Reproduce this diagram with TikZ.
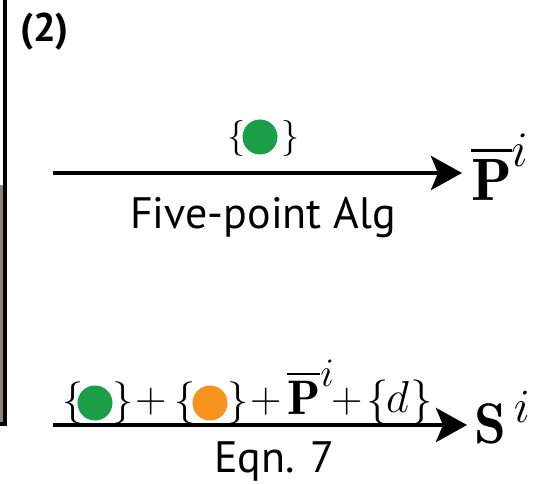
\documentclass[tikz,border=0pt]{standalone}
\usepackage{amsmath}
\usepackage{graphicx}
\usepackage{fontspec}
\newfontfamily\lblfont{PT Sans}
\usetikzlibrary{arrows.meta}
\definecolor{dotgreen}{RGB}{26,158,72}
\definecolor{dotorange}{RGB}{247,148,29}
\definecolor{photo}{RGB}{140,130,120}
\newcommand{\fsz}[1]{\fontsize{#1}{#1}\selectfont}
\newcommand{\bigmath}[2]{\scalebox{#1}{\Huge$#2$}}
\begin{document}
\begin{tikzpicture}[x=1pt,y=-1pt,
  flow/.style={line width=4.6pt,-{Stealth[length=31pt,width=34pt,inset=7pt]}},
  dotnode/.style={circle,inner sep=0pt,minimum size=35pt},
  txt/.style={inner sep=0pt,anchor=base west,font=\lblfont\fsz{44}},
  mth/.style={inner sep=0pt,anchor=base west}]
\useasboundingbox (0,0) rectangle (538,484);
% left border of previous panel
\fill[photo] (0,185) rectangle (3,422);
\draw[line width=4pt] (5,0) -- (5,424) -- (0,424);
% panel label
\node[txt,font=\lblfont\bfseries\fsz{40}] (lab) at (20,42) {(2)};
% top arrow
\coordinate (s1) at (53,173);
\node[mth] (p1) at (471,200) {\bigmath{2.4}{\overline{\mathbf{P}}^{i}}};
\draw[flow] (s1) -- ([xshift=-9pt]s1 -| p1.west);
\node[mth] (tb1) at (227,148) {\bigmath{1.45}{\{}};
\node[dotnode,fill=dotgreen] (tg) at (260,137) {};
\node[mth] (tb2) at (281,148) {\bigmath{1.45}{\}}};
\node[txt] (five) at (130,228) {Five-point Alg};
% bottom arrow
\coordinate (s2) at (53,425);
\node[mth] (s) at (474,443) {\bigmath{2.3}{\mathbf{S}^{\,i}}};
\draw[flow] (s2) -- ([xshift=-7pt]s2 -| s.west);
\node[mth] (b1) at (62,413) {\bigmath{1.7}{\{}};
\node[dotnode,fill=dotgreen] (g2) at (95,403) {};
\node[mth] (b2) at (112,413) {\bigmath{1.7}{\}}};
\node[mth] (pl1) at (135,412) {\bigmath{1.75}{+}};
\node[mth] (b3) at (174,413) {\bigmath{1.7}{\{}};
\node[dotnode,fill=dotorange] (o2) at (210,403) {};
\node[mth] (b4) at (227,413) {\bigmath{1.7}{\}}};
\node[mth] (pl2) at (250,412) {\bigmath{1.75}{+}};
\node[mth] (p2) at (287,414) {\bigmath{1.95}{\overline{\mathbf{P}}^{i}}};
\node[mth] (pl3) at (331,412) {\bigmath{1.75}{+}};
\node[mth] (b5) at (366,413) {\bigmath{1.8}{\{}};
\node[mth] (dd) at (386,412) {\bigmath{1.8}{d}};
\node[mth] (b6) at (410,413) {\bigmath{1.8}{\}}};
\node[txt] (eqn) at (214,472) {Eqn. 7};
\end{tikzpicture}
\end{document}
